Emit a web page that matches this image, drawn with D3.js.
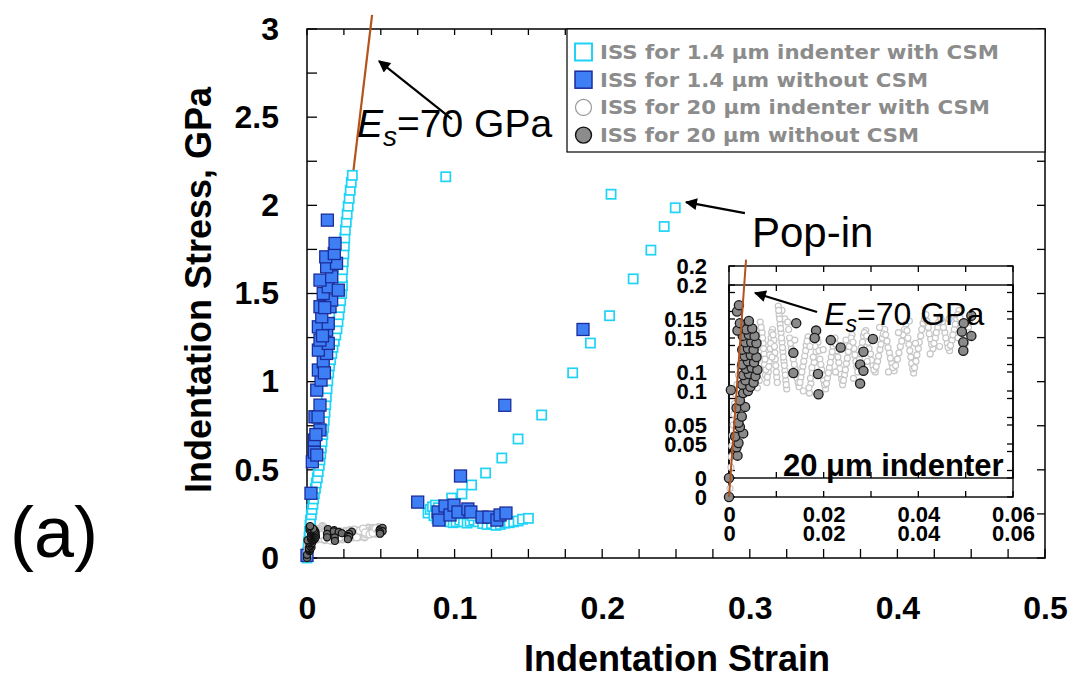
<!DOCTYPE html>
<html>
<head>
<meta charset="utf-8">
<script src="https://cdn.jsdelivr.net/npm/d3@7"></script>
<style>
  body { margin: 0; background: #fff; }
  svg { display: block; font-family: "Liberation Sans", Arial, sans-serif; }
</style>
</head>
<body>
<svg id="chart" width="1074" height="688"></svg>
<script>
// ISS for 1.4 um indenter with CSM  [strain, stress GPa]
const cyanCSM = [
  [0.0000,0.000],[0.0004,0.030],[0.0008,0.060],[0.0011,0.090],[0.0014,0.120],[0.0017,0.150],
  [0.0020,0.185],[0.0024,0.215],[0.0029,0.245],[0.0034,0.275],[0.0040,0.305],[0.0045,0.335],
  [0.0050,0.365],[0.0057,0.395],[0.0063,0.425],[0.0070,0.455],[0.0076,0.490],[0.0083,0.525],
  [0.0088,0.556],[0.0093,0.590],[0.0097,0.625],[0.0102,0.660],[0.0107,0.700],[0.0112,0.740],
  [0.0117,0.780],[0.0122,0.825],[0.0127,0.870],[0.0131,0.915],[0.0136,0.960],[0.0141,1.005],
  [0.0147,1.050],[0.0153,1.090],[0.0160,1.125],[0.0168,1.160],[0.0176,1.195],[0.0185,1.230],
  [0.0195,1.265],[0.0203,1.300],[0.0210,1.340],[0.0216,1.380],[0.0222,1.420],[0.0228,1.460],
  [0.0235,1.500],[0.0240,1.545],[0.0238,1.590],[0.0242,1.635],[0.0246,1.680],[0.0250,1.725],
  [0.0253,1.770],[0.0256,1.815],[0.0260,1.860],[0.0266,1.905],[0.0272,1.950],[0.0279,1.995],
  [0.0286,2.040],[0.0293,2.085],[0.0300,2.130],[0.0307,2.170],
  // pop-in excursion
  [0.094,2.162],[0.206,2.063],[0.2495,1.986],[0.242,1.880],[0.233,1.746],[0.221,1.583],
  [0.205,1.374],[0.192,1.219],[0.180,1.050],[0.159,0.811],[0.143,0.675],[0.132,0.567],
  [0.121,0.482],[0.1115,0.414],[0.105,0.363],[0.098,0.340],
  // cluster after pop-in
  [0.0820,0.255],[0.0835,0.275],[0.0850,0.290],[0.0870,0.300],[0.0890,0.285],[0.0905,0.262],
  [0.0920,0.240],[0.0935,0.225],[0.0950,0.215],[0.0970,0.205],[0.0990,0.200],[0.1010,0.205],
  [0.1035,0.215],[0.1060,0.205],[0.1085,0.198],[0.1105,0.208],[0.1130,0.215],[0.1160,0.205],
  [0.1190,0.195],[0.1220,0.190],[0.1250,0.195],[0.1280,0.185],[0.1310,0.190],[0.1340,0.198],
  [0.1370,0.200],[0.1400,0.205],[0.1430,0.210],[0.1460,0.220],[0.1500,0.225],[0.0860,0.240],
  [0.0880,0.225],[0.0950,0.275],[0.1000,0.260],[0.1050,0.250],[0.1120,0.240],[0.1180,0.235],
  [0.1240,0.225],[0.1300,0.230]
];

// ISS for 1.4 um without CSM
const blueNoCSM = [
  [0.0000,0.015],[0.0027,0.367],[0.0036,0.546],[0.0050,0.600],[0.0066,0.584],[0.0050,0.669],
  [0.0088,0.726],[0.0054,0.801],[0.0088,0.867],[0.0066,0.952],[0.0095,1.009],[0.0077,1.066],
  [0.0110,1.113],[0.0133,1.160],[0.0077,1.179],[0.0144,1.217],[0.0088,1.236],[0.0133,1.292],
  [0.0077,1.311],[0.0144,1.330],[0.0100,1.368],[0.0088,1.425],[0.0156,1.425],[0.0167,1.463],
  [0.0110,1.500],[0.0144,1.538],[0.0212,1.519],[0.0088,1.576],[0.0167,1.595],[0.0133,1.651],
  [0.0200,1.671],[0.0127,1.708],[0.0185,1.727],[0.0190,1.784],[0.0138,1.916],[0.0120,1.420],
  [0.0105,1.260],[0.0118,1.050],[0.0075,0.800],[0.0060,0.700],
  [0.075,0.317],[0.104,0.465],[0.134,0.866],[0.187,1.296],
  [0.0888,0.261],[0.0894,0.215],[0.0935,0.295],[0.0969,0.244],[0.0996,0.300],[0.1023,0.261],
  [0.1090,0.278],[0.1110,0.261],[0.1186,0.232],[0.1233,0.232],[0.1287,0.215],[0.1308,0.244],
  [0.1348,0.255]
];

// ISS for 20 um indenter with CSM
const greyCSM = [
  [0.0000,0.000],[0.0002,0.008],[0.0003,0.018],[0.0004,0.028],[0.0005,0.038],[0.0006,0.048],
  [0.0007,0.058],[0.0009,0.068],[0.0010,0.078],[0.0012,0.088],[0.0014,0.097],[0.0017,0.106],
  [0.0020,0.115],[0.0023,0.123],[0.0027,0.131],[0.0031,0.138],[0.0036,0.144],[0.0041,0.150],
  [0.0047,0.155],[0.0050,0.160],[0.0055,0.150],[0.0058,0.140],[0.0061,0.130],[0.0062,0.120],
  [0.0064,0.110],[0.0060,0.103],[0.0045,0.125],[0.0052,0.135],[0.0040,0.112],[0.0056,0.158],
  [0.0066,0.165],[0.0070,0.155],[0.0072,0.145],[0.0074,0.135],[0.0075,0.125],[0.0077,0.115],
  [0.0080,0.108],[0.0083,0.118],[0.0085,0.128],[0.0087,0.140],[0.0089,0.150],[0.0092,0.158],
  [0.0095,0.148],[0.0097,0.136],[0.0099,0.124],[0.0101,0.113],
  [0.0068,0.160],[0.0071,0.150],[0.0073,0.140],[0.0076,0.130],[0.0078,0.120],[0.0081,0.113],
  [0.0084,0.123],[0.0086,0.134],[0.0088,0.145],[0.0090,0.155],[0.0093,0.153],[0.0096,0.142],
  [0.0098,0.130],[0.0100,0.118],[0.0102,0.108],
  [0.0104,0.180],[0.0106,0.172],[0.0108,0.163],[0.0110,0.155],[0.0112,0.146],[0.0114,0.137],
  [0.0116,0.128],[0.0118,0.119],[0.0120,0.110],[0.0122,0.102],[0.0112,0.176],[0.0118,0.168],
  [0.0105,0.176],[0.0107,0.168],[0.0109,0.159],[0.0111,0.150],[0.0113,0.141],[0.0115,0.132],
  [0.0117,0.124],[0.0119,0.115],[0.0121,0.106],[0.0124,0.165],[0.0126,0.158],
  [0.0128,0.150],[0.0132,0.140],[0.0136,0.130],[0.0140,0.121],[0.0144,0.112],[0.0148,0.104],
  [0.0152,0.113],[0.0156,0.123],[0.0160,0.133],[0.0163,0.143],[0.0167,0.151],[0.0170,0.098],
  [0.0173,0.107],[0.0176,0.117],[0.0180,0.127],[0.0184,0.137],[0.0188,0.146],[0.0192,0.130],
  [0.0196,0.120],[0.0200,0.110],[0.0204,0.102],
  [0.0130,0.145],[0.0134,0.135],[0.0138,0.125],[0.0142,0.116],[0.0146,0.108],[0.0150,0.108],
  [0.0154,0.118],[0.0158,0.128],[0.0162,0.138],[0.0165,0.147],[0.0169,0.103],[0.0172,0.112],
  [0.0175,0.122],[0.0178,0.132],[0.0182,0.142],[0.0186,0.150],[0.0190,0.138],[0.0194,0.125],
  [0.0198,0.115],[0.0202,0.106],
  [0.0208,0.112],[0.0212,0.122],[0.0216,0.132],[0.0220,0.142],[0.0224,0.150],[0.0228,0.138],
  [0.0232,0.127],[0.0236,0.116],[0.0240,0.106],[0.0244,0.115],[0.0248,0.126],[0.0252,0.137],
  [0.0256,0.147],[0.0260,0.153],[0.0264,0.140],[0.0268,0.128],
  [0.0206,0.107],[0.0210,0.117],[0.0214,0.127],[0.0218,0.137],[0.0222,0.146],[0.0226,0.144],
  [0.0230,0.132],[0.0234,0.121],[0.0238,0.111],[0.0242,0.110],[0.0246,0.120],[0.0250,0.131],
  [0.0254,0.142],[0.0258,0.150],[0.0262,0.146],[0.0266,0.134],[0.0270,0.123],
  [0.0272,0.118],[0.0276,0.130],[0.0280,0.141],[0.0284,0.152],[0.0289,0.157],[0.0294,0.146],
  [0.0299,0.135],[0.0304,0.124],[0.0309,0.118],[0.0314,0.128],[0.0319,0.139],[0.0324,0.150],
  [0.0329,0.158],[0.0334,0.147],[0.0339,0.136],[0.0344,0.126],[0.0349,0.119],
  [0.0274,0.124],[0.0278,0.135],[0.0282,0.146],[0.0286,0.155],[0.0291,0.152],[0.0296,0.140],
  [0.0301,0.129],[0.0306,0.120],[0.0311,0.123],[0.0316,0.133],[0.0321,0.144],[0.0326,0.154],
  [0.0331,0.153],[0.0336,0.141],[0.0341,0.131],[0.0346,0.122],[0.0352,0.124],
  [0.0356,0.130],[0.0362,0.142],[0.0368,0.153],[0.0374,0.163],[0.0378,0.150],[0.0382,0.138],
  [0.0386,0.126],[0.0390,0.117],[0.0395,0.128],[0.0400,0.140],[0.0405,0.152],[0.0410,0.164],
  [0.0359,0.136],[0.0365,0.147],[0.0371,0.158],[0.0376,0.157],[0.0380,0.144],[0.0384,0.132],
  [0.0388,0.121],[0.0392,0.122],[0.0397,0.134],[0.0402,0.146],[0.0407,0.158],[0.0413,0.168],
  [0.0416,0.172],[0.0421,0.160],[0.0426,0.149],[0.0431,0.140],[0.0436,0.150],[0.0441,0.160],
  [0.0446,0.170],[0.0451,0.165],[0.0456,0.155],[0.0461,0.145],[0.0466,0.138],[0.0471,0.148],
  [0.0476,0.158],[0.0481,0.168],[0.0486,0.176],[0.0490,0.162],[0.0494,0.150],[0.0498,0.140],
  [0.0502,0.150],[0.0506,0.160],
  [0.0418,0.166],[0.0423,0.154],[0.0428,0.144],[0.0433,0.145],[0.0438,0.155],[0.0443,0.165],
  [0.0448,0.168],[0.0453,0.160],[0.0458,0.150],[0.0463,0.141],[0.0468,0.143],[0.0473,0.153],
  [0.0478,0.163],[0.0483,0.172],[0.0488,0.169],[0.0492,0.156],[0.0496,0.145],[0.0500,0.145],
  [0.0504,0.155],[0.0508,0.165],
  // scattered points between the sweeps
  [0.0091,0.132],[0.0139,0.148],[0.0157,0.100],[0.0171,0.142],[0.0199,0.139],[0.0225,0.118],
  [0.0247,0.148],[0.0263,0.112],[0.0292,0.128],[0.0318,0.160],[0.0337,0.118],[0.0358,0.155],
  [0.0381,0.166],[0.0394,0.145],[0.0425,0.135],[0.0445,0.142],[0.0465,0.168],[0.0484,0.150]
];

// ISS for 20 um without CSM
const greyNoCSM = [
  [0.0000,0.000],[0.0000,0.018],[0.0013,0.044],[0.0018,0.039],[0.0016,0.047],[0.0020,0.051],
  [0.0013,0.057],[0.0030,0.060],[0.0023,0.066],[0.0020,0.070],[0.0027,0.076],[0.0016,0.084],
  [0.0034,0.085],[0.0023,0.091],[0.0030,0.098],[0.0004,0.101],[0.0040,0.100],[0.0028,0.106],
  [0.0045,0.104],[0.0035,0.110],[0.0052,0.108],[0.0030,0.115],[0.0042,0.116],[0.0056,0.114],
  [0.0036,0.121],[0.0048,0.122],[0.0060,0.120],[0.0028,0.125],[0.0040,0.128],[0.0053,0.127],
  [0.0033,0.133],[0.0046,0.134],[0.0058,0.132],[0.0028,0.139],[0.0040,0.140],[0.0052,0.139],
  [0.0034,0.146],[0.0047,0.146],[0.0058,0.145],[0.0029,0.152],[0.0042,0.153],[0.0054,0.152],
  [0.0036,0.158],[0.0049,0.159],[0.0018,0.157],[0.0023,0.164],[0.0042,0.166],[0.0017,0.175],
  [0.0021,0.181],
  [0.0142,0.164],[0.0184,0.157],[0.0181,0.150],[0.0215,0.148],[0.0236,0.141],[0.0136,0.136],
  [0.0136,0.117],[0.0188,0.116],[0.0189,0.097],[0.0304,0.149],[0.0284,0.137],[0.0277,0.125],
  [0.0284,0.119],[0.0277,0.107],[0.0496,0.164],[0.0512,0.171],[0.0492,0.156],[0.0512,0.152],
  [0.0495,0.146],[0.0495,0.138]
];

// Es = 70 GPa reference line, end points
const esLineMain = [[0, 0], [0.0441, 3.08]];
const esLineInset = [[0, 0], [0.0036, 0.224]];

const mainXTicks = [0, 0.1, 0.2, 0.3, 0.4, 0.5];
const mainYTicks = [0, 0.5, 1, 1.5, 2, 2.5, 3];
const insetXTicks = [0, 0.02, 0.04, 0.06];
const insetYTicks = [0, 0.05, 0.1, 0.15, 0.2];

const legendLabels = [
  "ISS for 1.4 \u03bcm indenter with CSM",
  "ISS for 1.4 \u03bcm without CSM",
  "ISS for 20 \u03bcm indenter with CSM",
  "ISS for 20 \u03bcm without CSM"
];

const CYAN = "#1fd3f7", BLUE = "#3f7ff5", BLUE_DARK = "#1b2d9c", BROWN = "#b4531c";

const svg = d3.select("#chart");
const fmt = d3.format("~g");

svg.append("defs").append("marker")
  .attr("id", "head")
  .attr("viewBox", "0 0 10 10")
  .attr("refX", 9).attr("refY", 5)
  .attr("markerUnits", "userSpaceOnUse")
  .attr("markerWidth", 18).attr("markerHeight", 12)
  .attr("orient", "auto")
  .append("path").attr("d", "M0,0L10,5L0,10z").attr("fill", "#000");

// ---------- main plot ----------
const x = d3.scaleLinear().domain([0, 0.5]).range([307, 1045]);
const y = d3.scaleLinear().domain([0, 3]).range([558, 29]);

svg.append("rect")
  .attr("x", x(0)).attr("y", y(3))
  .attr("width", x(0.5) - x(0)).attr("height", y(0) - y(3))
  .attr("fill", "none").attr("stroke", "#000").attr("stroke-width", 1.5);

function tickLines(g, vals, pos, dir, len) {
  // ticks point inward from the given side of a frame
  g.selectAll(null).data(vals).enter().append("line")
    .attr("x1", d => dir === "left" || dir === "right" ? pos.x : pos.s(d))
    .attr("x2", d => dir === "left" ? pos.x + len : dir === "right" ? pos.x - len : pos.s(d))
    .attr("y1", d => dir === "top" || dir === "bottom" ? pos.y : pos.s(d))
    .attr("y2", d => dir === "top" ? pos.y + len : dir === "bottom" ? pos.y - len : pos.s(d))
    .attr("stroke", "#000").attr("stroke-width", 1.3);
}

const mainTicks = svg.append("g");
const xMinor = d3.range(0, 0.5001, 0.025);
const yMinor = d3.range(0, 3.001, 0.25);
tickLines(mainTicks, xMinor, { s: x, y: y(0) }, "bottom", 9);
tickLines(mainTicks, xMinor, { s: x, y: y(3) }, "top", 6);
tickLines(mainTicks, yMinor, { s: y, x: x(0) }, "left", 10);
tickLines(mainTicks, yMinor, { s: y, x: x(0.5) }, "right", 8);

const xAxis = svg.append("g")
  .attr("transform", `translate(0,${y(0)})`)
  .call(d3.axisBottom(x).tickValues(mainXTicks).tickSize(0).tickPadding(38).tickFormat(fmt));
const yAxis = svg.append("g")
  .attr("transform", `translate(${x(0)},0)`)
  .call(d3.axisLeft(y).tickValues(mainYTicks).tickSize(0).tickPadding(28).tickFormat(fmt));
[xAxis, yAxis].forEach(a => {
  a.select(".domain").remove();
  a.selectAll("text")
    .attr("font-family", "Liberation Sans, Arial, sans-serif")
    .attr("font-size", 32).attr("font-weight", "bold").attr("fill", "#000");
});

svg.append("text")
  .attr("x", 677).attr("y", 671)
  .attr("text-anchor", "middle")
  .attr("font-size", 36).attr("font-weight", "bold")
  .text("Indentation Strain");
svg.append("text")
  .attr("transform", "translate(211,290) rotate(-90)")
  .attr("text-anchor", "middle")
  .attr("font-size", 36).attr("font-weight", "bold")
  .text("Indentation Stress, GPa");
svg.append("text")
  .attr("x", 10).attr("y", 557)
  .attr("font-size", 72)
  .text("(a)");

const line = d3.line().x(d => x(d[0])).y(d => y(d[1]));
svg.append("path").datum(esLineMain)
  .attr("d", line).attr("fill", "none").attr("stroke", BROWN).attr("stroke-width", 2.2);

const mainMarks = svg.append("g");
mainMarks.selectAll(".cy").data(cyanCSM).enter().append("rect")
  .attr("x", d => x(d[0]) - 4.6).attr("y", d => y(d[1]) - 4.6)
  .attr("width", 9.2).attr("height", 9.2)
  .attr("fill", "#fff").attr("stroke", CYAN).attr("stroke-width", 1.7);
mainMarks.selectAll(".bl").data(blueNoCSM).enter().append("rect")
  .attr("x", d => x(d[0]) - 6).attr("y", d => y(d[1]) - 6)
  .attr("width", 12).attr("height", 12)
  .attr("fill", BLUE).attr("stroke", BLUE_DARK).attr("stroke-width", 1.3);
mainMarks.selectAll(".gc").data(greyCSM).enter().append("circle")
  .attr("cx", d => x(d[0])).attr("cy", d => y(d[1])).attr("r", 3.6)
  .attr("fill", "#fff").attr("stroke", "#c9c9c9").attr("stroke-width", 1.2);
mainMarks.selectAll(".gn").data(greyNoCSM).enter().append("circle")
  .attr("cx", d => x(d[0])).attr("cy", d => y(d[1])).attr("r", 3.6)
  .attr("fill", "#6e6e6e").attr("stroke", "#111").attr("stroke-width", 1.2);

// annotations (main)
function arrow(sx, sy, from, to) {
  svg.append("line")
    .attr("x1", sx(from[0])).attr("y1", sy(from[1]))
    .attr("x2", sx(to[0])).attr("y2", sy(to[1]))
    .attr("stroke", "#000").attr("stroke-width", 2.2)
    .attr("marker-end", "url(#head)");
}
function esLabel(px, py, size) {
  const t = svg.append("text").attr("x", px).attr("y", py).attr("font-size", size);
  t.append("tspan").attr("font-style", "italic").text("E");
  t.append("tspan").attr("font-style", "italic").attr("font-size", size * 0.72)
    .attr("dy", size * 0.22).text("s");
  t.append("tspan").attr("dy", -size * 0.22).text("=70 GPa");
}
arrow(x, y, [0.0982, 2.489], [0.0488, 2.818]);
esLabel(x(0.0339), y(2.387), 39);
arrow(x, y, [0.2967, 1.956], [0.2568, 2.018]);
svg.append("text")
  .attr("x", x(0.3015)).attr("y", y(1.763))
  .attr("font-size", 42).text("Pop-in");

// ---------- legend ----------
const lg = svg.append("g");
lg.append("rect")
  .attr("x", 567).attr("y", y(3)).attr("width", x(0.5) - 567).attr("height", 123)
  .attr("fill", "#fff").attr("stroke", "#000").attr("stroke-width", 1.2);
const rowY = i => 52 + i * 27.7;
const legendWidths = [399, 328, 390, 319];
lg.selectAll("text").data(legendLabels).enter().append("text")
  .attr("x", 600).attr("y", (d, i) => rowY(i) + 7)
  .attr("font-family", "DejaVu Sans, sans-serif")
  .attr("font-size", 19).attr("font-weight", "bold").attr("fill", "#8c8c8c")
  .attr("textLength", (d, i) => legendWidths[i]).attr("lengthAdjust", "spacingAndGlyphs")
  .text(d => d);
lg.append("rect").attr("x", 575).attr("y", rowY(0) - 8.5).attr("width", 17).attr("height", 17)
  .attr("fill", "#fff").attr("stroke", CYAN).attr("stroke-width", 2);
lg.append("rect").attr("x", 575).attr("y", rowY(1) - 8.5).attr("width", 17).attr("height", 17)
  .attr("fill", BLUE).attr("stroke", BLUE_DARK).attr("stroke-width", 1.5);
lg.append("circle").attr("cx", 583.5).attr("cy", rowY(2)).attr("r", 8)
  .attr("fill", "#fff").attr("stroke", "#999").attr("stroke-width", 1.2);
lg.append("circle").attr("cx", 583.5).attr("cy", rowY(3)).attr("r", 8)
  .attr("fill", "#8c8c8c").attr("stroke", "#111").attr("stroke-width", 1.4);

// ---------- inset ----------
const xi = d3.scaleLinear().domain([0, 0.06]).range([729, 1013]);
const yi1 = d3.scaleLinear().domain([0, 0.2]).range([478, 266]);
const yi2 = d3.scaleLinear().domain([0, 0.2]).range([497, 285]);

svg.append("rect")
  .attr("x", xi(0)).attr("y", yi1(0.2))
  .attr("width", xi(0.06) - xi(0)).attr("height", yi2(0) - yi1(0.2))
  .attr("fill", "#fff");

const insetX10 = d3.range(0, 0.0601, 0.01);
const insetY25 = d3.range(0, 0.2001, 0.025);
[yi1, yi2].forEach(ys => {
  svg.append("rect")
    .attr("x", xi(0)).attr("y", ys(0.2))
    .attr("width", xi(0.06) - xi(0)).attr("height", ys(0) - ys(0.2))
    .attr("fill", "none").attr("stroke", "#000").attr("stroke-width", 1.4);
  const tg = svg.append("g");
  tickLines(tg, insetX10, { s: xi, y: ys(0) }, "bottom", 6);
  tickLines(tg, insetX10, { s: xi, y: ys(0.2) }, "top", 6);
  tickLines(tg, insetY25, { s: ys, x: xi(0) }, "left", 6);
  tickLines(tg, insetY25, { s: ys, x: xi(0.06) }, "right", 6);

  const ax = svg.append("g")
    .attr("transform", `translate(0,${ys(0)})`)
    .call(d3.axisBottom(xi).tickValues(insetXTicks).tickSize(0).tickPadding(28).tickFormat(fmt));
  const ay = svg.append("g")
    .attr("transform", `translate(${xi(0)},0)`)
    .call(d3.axisLeft(ys).tickValues(insetYTicks).tickSize(0).tickPadding(22).tickFormat(fmt));
  [ax, ay].forEach(a => {
    a.select(".domain").remove();
    a.selectAll("text")
      .attr("font-family", "Liberation Sans, Arial, sans-serif")
      .attr("font-size", 22).attr("font-weight", "bold").attr("fill", "#000");
  });
});

const insetMarks = svg.append("g");
insetMarks.selectAll("circle.c").data(greyCSM).enter().append("circle")
  .attr("cx", d => xi(d[0])).attr("cy", d => yi2(d[1])).attr("r", 3)
  .attr("fill", "#fff").attr("stroke", "#c6c6c6").attr("stroke-width", 1.2);
insetMarks.selectAll("circle.n").data(greyNoCSM).enter().append("circle")
  .attr("cx", d => xi(d[0])).attr("cy", d => yi2(d[1])).attr("r", 4.6)
  .attr("fill", "#8a8a8a").attr("stroke", "#1a1a1a").attr("stroke-width", 1.3);

const lineI = d3.line().x(d => xi(d[0])).y(d => yi2(d[1]));
svg.append("path").datum(esLineInset)
  .attr("d", lineI).attr("fill", "none").attr("stroke", BROWN).attr("stroke-width", 2);

arrow(xi, yi2, [0.0186, 0.1745], [0.0055, 0.1925]);
esLabel(xi(0.0201), yi2(0.1623), 32);
svg.append("text")
  .attr("x", xi(0.058)).attr("y", yi2(0.0198))
  .attr("text-anchor", "end")
  .attr("font-size", 31).attr("font-weight", "bold")
  .text("20 \u03bcm indenter");
</script>
</body>
</html>
